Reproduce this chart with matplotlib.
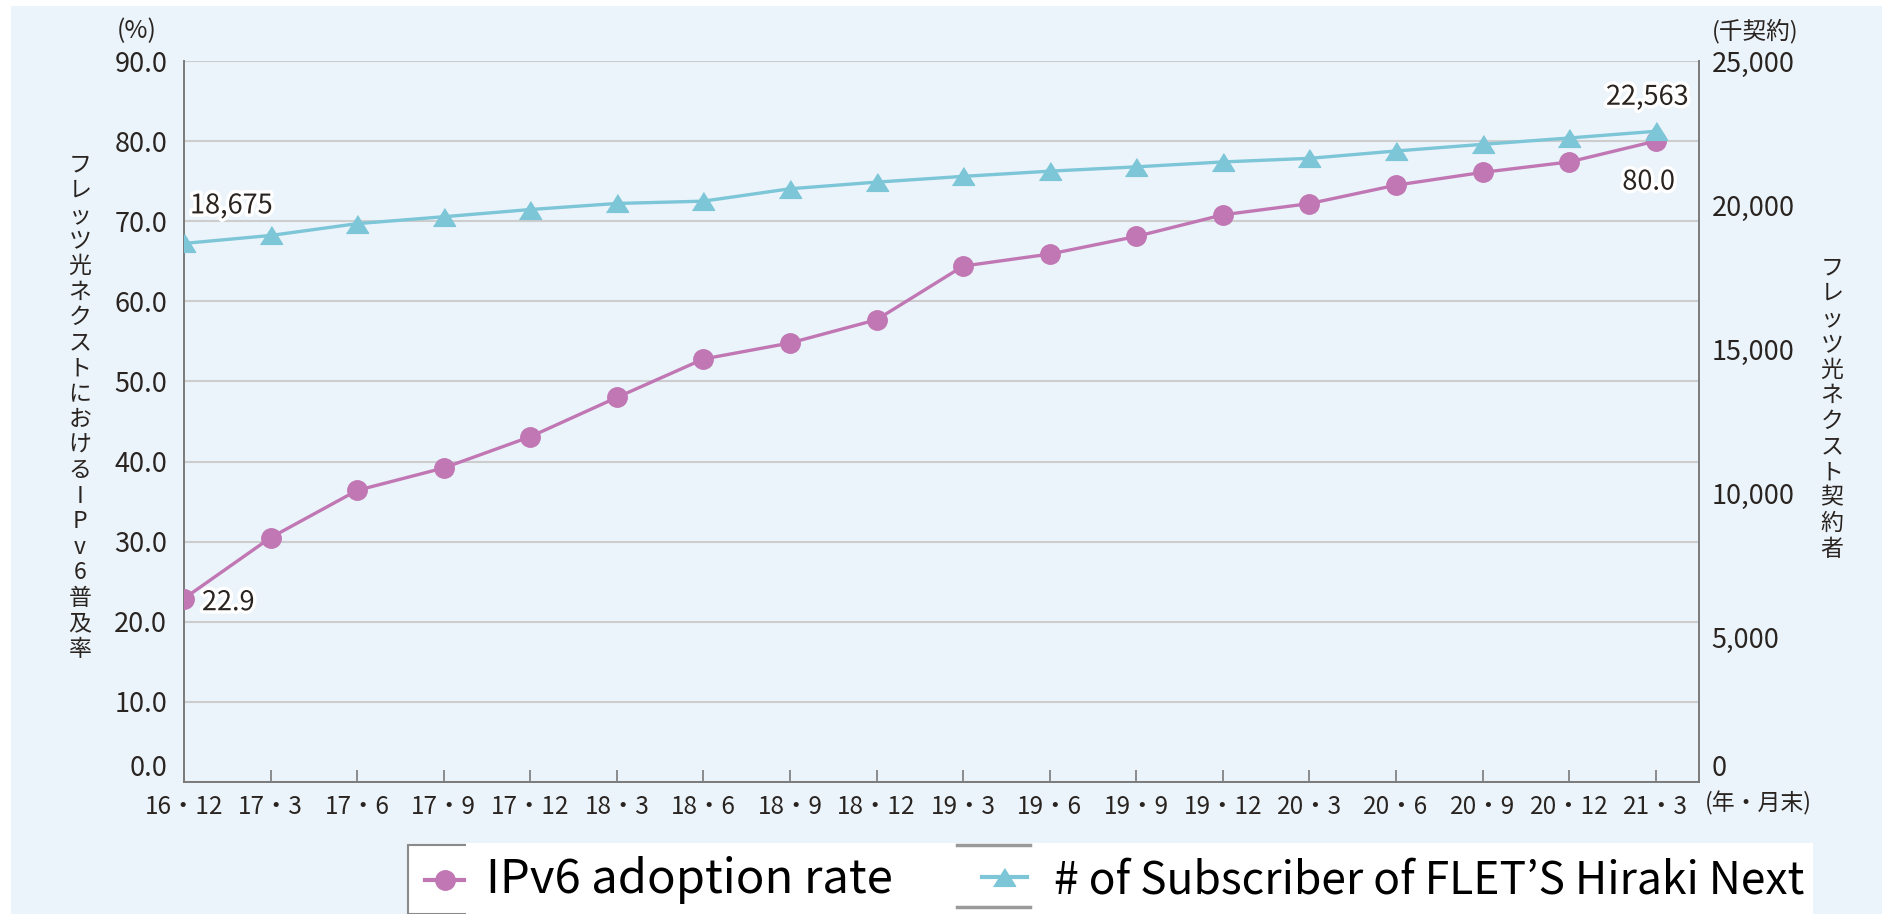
import matplotlib
matplotlib.use("Agg")
import matplotlib.pyplot as plt
import matplotlib.patheffects as pe
from matplotlib.patches import Rectangle
from matplotlib.lines import Line2D
from matplotlib.ticker import FuncFormatter

plt.rcParams['font.family'] = ['Noto Sans CJK JP', 'DejaVu Sans']

# data
periods = ['16・12', '17・3', '17・6', '17・9', '17・12', '18・3', '18・6', '18・9', '18・12',
           '19・3', '19・6', '19・9', '19・12', '20・3', '20・6', '20・9', '20・12', '21・3']
ipv6_rate = [22.9, 30.5, 36.4, 39.2, 43.1, 48.0, 52.8, 54.8, 57.7,
             64.4, 65.9, 68.1, 70.8, 72.2, 74.5, 76.1, 77.4, 80.0]
subscribers = [18675, 18950, 19360, 19600, 19850, 20060, 20140, 20570, 20800,
               21000, 21180, 21330, 21500, 21625, 21880, 22110, 22330, 22563]
left_ticks = [0, 10, 20, 30, 40, 50, 60, 70, 80, 90]
right_ticks = [0, 5000, 10000, 15000, 20000, 25000]

W, H = 1883, 914
PINK = '#c077b3'
BLUE = '#7cc6d7'
BG = '#ebf4fb'
TXT = '#2a2421'
AXC = '#7a7a7a'


def fx(px):
    return px / W


def fy(py):
    return 1 - py / H


fig = plt.figure(figsize=(W / 100, H / 100), dpi=100, facecolor='white')
fig.patches.append(Rectangle((fx(11), 0), 1, fy(6), transform=fig.transFigure,
                             facecolor=BG, edgecolor='none', zorder=-10))

ax = fig.add_axes([fx(184), fy(782), fx(1699) - fx(184), fy(61) - fy(782)])
ax.set_facecolor(BG)
x = list(range(len(periods)))

ax.plot(x, ipv6_rate, color=PINK, lw=2.4, marker='o', ms=14, zorder=3)
ax.set_xlim(0, 17.5)
ax.set_ylim(0, 90)
ax.set_yticks(left_ticks)
ax.yaxis.set_major_formatter(FuncFormatter(lambda v, p: f'{v:.1f}'))
ax.set_xticks(x)
ax.set_xticklabels(periods)
ax.grid(axis='y', color='#cdcdcd', lw=1.5)
ax.set_axisbelow(True)
for s in ['left', 'bottom']:
    ax.spines[s].set_color(AXC)
    ax.spines[s].set_linewidth(1.4)
ax.spines['top'].set_visible(False)
ax.spines['right'].set_visible(False)
ax.tick_params(axis='x', direction='in', length=9, width=1.2, color=AXC,
               labelsize=17.5, labelcolor=TXT, pad=9)
ax.tick_params(axis='y', length=0, labelsize=19.5, labelcolor=TXT, pad=12)

ax2 = ax.twinx()
tri = [(-1, -0.8), (1, -0.8), (0, 0.8)]
ax2.plot(x, subscribers, color=BLUE, lw=2.4, marker=tri, ms=16, zorder=4)
ax2.set_ylim(0, 25000)
ax2.set_yticks(right_ticks)
ax2.yaxis.set_major_formatter(FuncFormatter(lambda v, p: f'{v:,.0f}'))
ax2.spines['right'].set_color(AXC)
ax2.spines['right'].set_linewidth(1.4)
for s in ['left', 'top', 'bottom']:
    ax2.spines[s].set_visible(False)
ax2.tick_params(axis='y', length=0, labelsize=19.5, labelcolor=TXT, pad=9)

# lift the zero labels off the x axis, as in the original
ax.get_yticklabels()[0].set_va('bottom')
ax2.get_yticklabels()[0].set_va('bottom')

halo = [pe.withStroke(linewidth=5, foreground='white')]
ax2.annotate(f'{subscribers[0]:,}', (x[0], subscribers[0]), xytext=(34, 27),
             textcoords='offset points', ha='center', va='center', fontsize=19.5,
             color=TXT, path_effects=halo, zorder=6)
ax2.annotate(f'{subscribers[-1]:,}', (x[-1], subscribers[-1]), xytext=(-6, 24.5),
             textcoords='offset points', ha='center', va='center', fontsize=19.5,
             color=TXT, path_effects=halo, zorder=6)
ax2.annotate(f'{ipv6_rate[0]:.1f}', (x[0], ipv6_rate[0] * 25000 / 90), xytext=(32, -3),
             textcoords='offset points', ha='center', va='center', fontsize=19.5,
             color=TXT, path_effects=halo, zorder=6)
ax2.annotate(f'{ipv6_rate[-1]:.1f}', (x[-1], ipv6_rate[-1] * 25000 / 90), xytext=(-5, -29.5),
             textcoords='offset points', ha='center', va='center', fontsize=19.5,
             color=TXT, path_effects=halo, zorder=6)

# unit labels
fig.text(fx(137), fy(31), '(%)', ha='center', va='center', fontsize=18, color=TXT)
fig.text(fx(1712), fy(31), '(千契約)', ha='left', va='center', fontsize=17, color=TXT)
fig.text(fx(1705), fy(803), '(年・月末)', ha='left', va='center', fontsize=16.5, color=TXT)

# stacked vertical axis titles
left_title = 'フレッツ光ネクストにおけるIPv6普及率'
for i, ch in enumerate(left_title):
    fig.text(fx(80), fy(152 + 25.5 * (i + 0.5)), ch, ha='center', va='center',
             fontsize=16.5, color=TXT)
right_title = 'フレッツ光ネクスト契約者'
for i, ch in enumerate(right_title):
    fig.text(fx(1832), fy(255 + 25.6 * (i + 0.5)), ch, ha='center', va='center',
             fontsize=16.5, color=TXT)

# legend strip
fig.patches.append(Rectangle((fx(408), 0), fx(470) - fx(408), fy(845), transform=fig.transFigure,
                             facecolor='white', edgecolor='#8a8a8a', lw=1.5, zorder=2))
fig.patches.append(Rectangle((fx(466), 0), fx(1813) - fx(466), fy(843), transform=fig.transFigure,
                             facecolor='white', edgecolor='none', zorder=3))
for yy in (845, 907):
    fig.add_artist(Line2D([fx(957), fx(1030)], [fy(yy), fy(yy)], color='#9a9a9a', lw=2.5,
                          transform=fig.transFigure, zorder=4))
fig.add_artist(Line2D([fx(425), fx(464)], [fy(880), fy(880)], color=PINK, lw=3,
                      transform=fig.transFigure, zorder=4))
fig.add_artist(Line2D([fx(445)], [fy(880)], color=PINK, marker='o', ms=14, lw=0,
                      transform=fig.transFigure, zorder=4))
fig.add_artist(Line2D([fx(982), fx(1027)], [fy(877), fy(877)], color=BLUE, lw=3,
                      transform=fig.transFigure, zorder=4))
fig.add_artist(Line2D([fx(1004)], [fy(877)], color=BLUE, marker=tri, ms=16, lw=0,
                      transform=fig.transFigure, zorder=4))
fig.text(fx(486), fy(880), 'IPv6 adoption rate', ha='left', va='center', fontsize=34,
         color='black', zorder=5)
fig.text(fx(1054), fy(880), '# of Subscriber of FLET’S Hiraki Next', ha='left', va='center',
         fontsize=32, color='black', zorder=5)

fig.savefig('out.png', dpi=100, facecolor='white')
